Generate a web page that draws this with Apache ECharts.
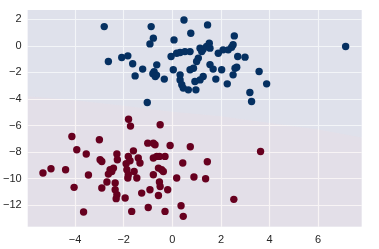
<!DOCTYPE html>
<html>
<head>
<meta charset="utf-8">
<script src="https://cdn.jsdelivr.net/npm/echarts@6/dist/echarts.min.js"></script>
<style>
html,body{margin:0;padding:0;background:#fff;}
#c{width:379px;height:249px;}
</style>
</head>
<body>
<div id="c"></div>
<script>
// class 1 (blue) training points [x, y]
const bluePoints = [
[-2.80,1.45],[-2.63,-1.18],[-2.08,-0.88],[-1.83,-0.75],[-1.63,-1.35],[-1.53,-2.26],
[-1.22,-1.75],[-1.03,-4.26],[-0.87,1.45],[-0.78,0.58],[-0.92,0.15],[-0.64,-1.43],
[-0.75,-1.95],[-0.65,-2.20],[-0.80,-2.10],[-0.70,-2.30],[-0.33,-2.50],[0.07,0.45],
[0.04,-1.80],[-0.05,-0.80],[0.18,-0.55],[0.32,-0.50],[0.52,-0.43],[0.73,-0.43],
[0.48,1.95],[1.45,1.58],[0.76,0.95],[2.55,0.75],[1.14,-0.17],[1.21,-0.43],
[1.27,-0.25],[1.41,-0.05],[1.52,0.20],[1.55,-0.17],[1.89,-0.55],[2.09,-0.30],
[2.30,-0.30],[2.44,-0.10],[2.50,0.08],[2.69,-0.80],[2.99,-0.85],[1.07,-0.92],
[1.00,-1.18],[0.73,-1.80],[0.87,-1.68],[1.55,-1.41],[1.68,-1.75],[2.03,-1.80],
[2.58,-1.68],[2.65,-1.60],[2.50,-2.18],[1.79,-2.50],[1.27,-2.31],[1.14,-2.56],
[0.93,-2.68],[0.32,-2.56],[0.39,-2.93],[0.45,-3.18],[0.66,-3.31],[0.97,-3.31],
[2.26,-2.86],[3.19,-3.51],[3.26,-4.19],[3.57,-1.93],[3.88,-2.86],[7.13,-0.05],
[0.32,-2.18]
];
// class 0 (red) training points [x, y]
const redPoints = [
[-5.32,-9.57],[-4.99,-9.25],[-4.39,-9.32],[-4.13,-6.82],[-3.93,-7.82],[-3.54,-8.14],
[-4.04,-10.65],[-3.45,-9.72],[-3.65,-12.50],[-3.00,-7.07],[-2.90,-8.70],[-2.97,-8.57],
[-2.90,-10.70],[-2.56,-9.32],[-2.49,-9.45],[-2.42,-9.20],[-2.63,-9.65],[-2.69,-10.25],
[-2.35,-10.32],[-2.35,-10.83],[-2.28,-11.20],[-2.31,-11.50],[-2.28,-8.14],[-2.26,-8.57],
[-1.94,-11.45],[-1.90,-8.87],[-1.87,-9.32],[-1.81,-9.70],[-1.83,-9.95],[-1.80,-5.52],
[-1.72,-6.04],[-1.81,-8.32],[-1.74,-8.65],[-1.60,-7.90],[-1.67,-12.46],[-1.46,-9.95],
[-1.57,-9.45],[-1.40,-8.44],[-1.33,-8.82],[-1.26,-11.08],[-1.01,-7.32],[-0.78,-7.32],
[-0.71,-7.44],[-0.78,-8.44],[-0.64,-8.32],[-0.53,-8.32],[-0.30,-8.32],[-0.78,-9.70],
[-0.57,-9.20],[-0.44,-9.32],[-0.37,-9.45],[-0.92,-10.83],[-0.53,-10.25],[-0.50,-10.58],
[-0.57,-11.26],[-0.19,-10.83],[-0.99,-12.16],[-0.30,-12.46],[-0.09,-7.50],[0.18,-9.95],
[0.43,-8.82],[0.36,-12.03],[0.45,-12.83],[-0.50,-5.94],[0.74,-7.59],[1.44,-8.72],
[0.89,-9.87],[1.37,-10.00],[2.53,-11.55],[3.63,-7.95]
];
// estimated decision boundary between the two shaded regions [x, y]
const boundary = [
[-5.95,-3.8],[-4,-4.1],[-2,-4.5],[0,-4.95],[2,-5.3],[4,-5.8],[6,-6.3],[7.79,-6.9]
];
const xRange = [-5.95, 7.79];
const yRange = [-13.61, 2.70];

const fmt = v => (v < 0 ? '\u2212' : '') + Math.abs(v);
const chart = echarts.init(document.getElementById('c'));
const axisCommon = {
  axisLine:{show:false}, axisTick:{show:false},
  axisLabel:{color:'#262626', fontFamily:'Liberation Sans', fontSize:11, formatter:fmt,
             showMinLabel:false, showMaxLabel:false},
  splitLine:{show:true, showMinLine:false, showMaxLine:false, lineStyle:{color:'#ffffff', width:1.2}}
};
chart.setOption({
  animation:false,
  grid:{left:26.7, right:17.3, top:10, bottom:22.3, show:true, backgroundColor:'#EAEAF2', borderWidth:0},
  xAxis:Object.assign({type:'value', min:xRange[0], max:xRange[1], splitNumber:7}, axisCommon,
        {axisLabel:Object.assign({}, axisCommon.axisLabel, {margin:8})}),
  yAxis:Object.assign({type:'value', min:yRange[0], max:yRange[1], splitNumber:8}, axisCommon,
        {axisLabel:Object.assign({}, axisCommon.axisLabel, {margin:6})}),
  series:[
    {type:'line', data:boundary, symbol:'none', lineStyle:{width:0}, z:1,
     areaStyle:{origin:'end', color:'rgba(5,48,97,0.065)'}},
    {type:'line', data:boundary, symbol:'none', lineStyle:{width:0}, z:1,
     areaStyle:{origin:'start', color:'rgba(103,0,31,0.06)'}},
    {type:'scatter', data:bluePoints, symbolSize:7.4, itemStyle:{color:'#053061', opacity:1}, z:3},
    {type:'scatter', data:redPoints, symbolSize:7.4, itemStyle:{color:'#67001F', opacity:1}, z:3}
  ]
});
</script>
</body>
</html>
